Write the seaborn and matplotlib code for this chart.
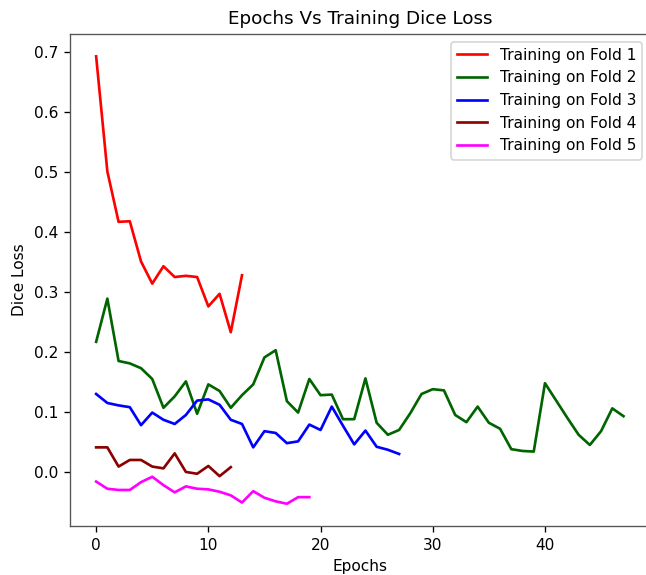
import pandas as pd
import matplotlib
matplotlib.use('Agg')
import matplotlib.pyplot as plt
import seaborn as sns

# dice loss per epoch
fold1 = [0.693, 0.501, 0.417, 0.418, 0.351, 0.314, 0.343, 0.325, 0.327, 0.325,
         0.276, 0.297, 0.233, 0.328]
fold2 = [0.217, 0.289, 0.185, 0.181, 0.173, 0.155, 0.107, 0.126, 0.151, 0.097,
         0.146, 0.135, 0.107, 0.128, 0.146, 0.191, 0.203, 0.118, 0.099, 0.155,
         0.128, 0.129, 0.088, 0.088, 0.156, 0.082, 0.062, 0.070, 0.098, 0.130,
         0.138, 0.136, 0.095, 0.083, 0.109, 0.082, 0.072, 0.038, 0.035, 0.034,
         0.148, 0.119, 0.090, 0.062, 0.045, 0.068, 0.106, 0.093]
fold3 = [0.130, 0.115, 0.111, 0.108, 0.078, 0.099, 0.087, 0.080, 0.095, 0.119,
         0.121, 0.112, 0.087, 0.080, 0.041, 0.068, 0.065, 0.048, 0.051, 0.079,
         0.070, 0.109, 0.077, 0.046, 0.069, 0.042, 0.037, 0.030]
fold4 = [0.041, 0.041, 0.009, 0.020, 0.020, 0.009, 0.006, 0.031, 0.000, -0.003,
         0.010, -0.007, 0.008]
fold5 = [-0.016, -0.028, -0.030, -0.030, -0.017, -0.008, -0.022, -0.034, -0.024, -0.028,
         -0.029, -0.033, -0.039, -0.051, -0.032, -0.043, -0.049, -0.053, -0.042, -0.042]

folds = [fold1, fold2, fold3, fold4, fold5]
labels = ['Training on Fold %d' % (i + 1) for i in range(5)]
colors = ['red', 'darkgreen', 'blue', 'darkred', 'magenta']

# long format for seaborn
rows = []
for lab, vals in zip(labels, folds):
    for ep, v in enumerate(vals):
        rows.append({'epoch': ep, 'loss': v, 'fold': lab})
df = pd.DataFrame(rows)

plt.rcParams['font.size'] = 9.2
plt.rcParams['axes.edgecolor'] = '#555555'

fig = plt.figure(figsize=(646 / 120, 575 / 120), dpi=120)
ax = fig.add_axes([0.108, 0.085, 0.898, 0.856])
sns.lineplot(data=df, x='epoch', y='loss', hue='fold', palette=dict(zip(labels, colors)),
             estimator=None, linewidth=1.6, ax=ax)
ax.set_title('Epochs Vs Training Dice Loss')
ax.set_xlabel('Epochs')
ax.set_ylabel('Dice Loss')
ax.legend(loc='upper right')
fig.savefig('out.png', dpi=120)
